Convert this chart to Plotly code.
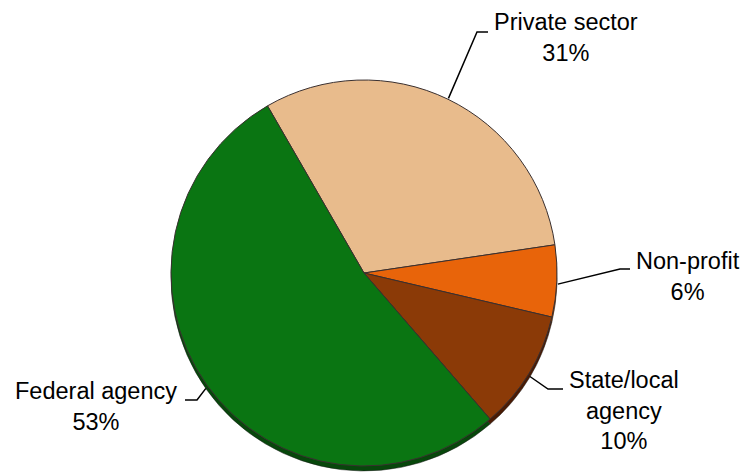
import math
import plotly.graph_objects as go

# ---- data ----
categories = ["Private sector", "Non-profit", "State/local agency", "Federal agency"]
values = [31, 6, 10, 53]
label_text = ["Private sector<br>31%", "Non-profit<br>6%", "State/local<br>agency<br>10%", "Federal agency<br>53%"]

# ---- style / layout ----
W, H = 743, 472
colors = ["#E8BB8C", "#E8640A", "#8B3A07", "#0A7512"]
shadow_colors = ["#8a6a4a", "#8a3a05", "#4a1a03", "#07470b"]
cx, cy, r = 364, 273, 193        # pie centre / radius in pixels
shadow_dy = 5
rotation = -30                   # first slice starts 30 deg left of 12 o'clock

# label centres (px) and elbow points (px) for leader lines
label_pos = [(566, 37), (688, 276), (624, 410), (96, 406)]
elbows = [[(477, 32), (488, 32)],
          [(620, 269), (630, 269)],
          [(548, 389), (563, 389)],
          [(197, 400), (185, 400)]]


def px_to_paper(x, y):
    return x / W, (H - y) / H


def dom(cx_, cy_, r_):
    return dict(x=[(cx_ - r_) / W, (cx_ + r_) / W],
                y=[(H - cy_ - r_) / H, (H - cy_ + r_) / H])


fig = go.Figure()
fig.add_trace(go.Pie(values=values, labels=categories, sort=False, direction="clockwise",
                     rotation=rotation, textinfo="none", hoverinfo="skip",
                     marker=dict(colors=shadow_colors, line=dict(color="#1a1a1a", width=0.5)),
                     domain=dom(cx, cy + shadow_dy, r), showlegend=False))
fig.add_trace(go.Pie(values=values, labels=categories, sort=False, direction="clockwise",
                     rotation=rotation, textinfo="none",
                     marker=dict(colors=colors, line=dict(color="#3a3030", width=1)),
                     domain=dom(cx, cy, r), showlegend=False))

total = sum(values)
start = 90 - rotation  # math angle (deg, ccw from +x)
cum = 0
shapes = []
annotations = []
for i, v in enumerate(values):
    mid = start - 360 * (cum + v / 2) / total
    cum += v
    a = math.radians(mid)
    ex = cx + (r + 1) * math.cos(a)
    ey = cy - (r + 1) * math.sin(a) + (3 if math.sin(a) < 0 else 0)
    pts = [(ex, ey)] + elbows[i]
    pp = [px_to_paper(x, y) for x, y in pts]
    path = "M {} {} ".format(*pp[0]) + " ".join("L {} {}".format(x, y) for x, y in pp[1:])
    shapes.append(dict(type="path", path=path, xref="paper", yref="paper",
                       line=dict(color="black", width=1.5)))
    lx, ly = px_to_paper(*label_pos[i])
    annotations.append(dict(x=lx, y=ly, xref="paper", yref="paper", text=label_text[i],
                            showarrow=False, xanchor="center", yanchor="middle",
                            font=dict(family="Liberation Sans, Arial, sans-serif", size=23.5, color="black")))

fig.update_layout(width=W, height=H, margin=dict(l=0, r=0, t=0, b=0),
                  paper_bgcolor="white", plot_bgcolor="white",
                  shapes=shapes, annotations=annotations, showlegend=False)

fig.write_html("out.html")
